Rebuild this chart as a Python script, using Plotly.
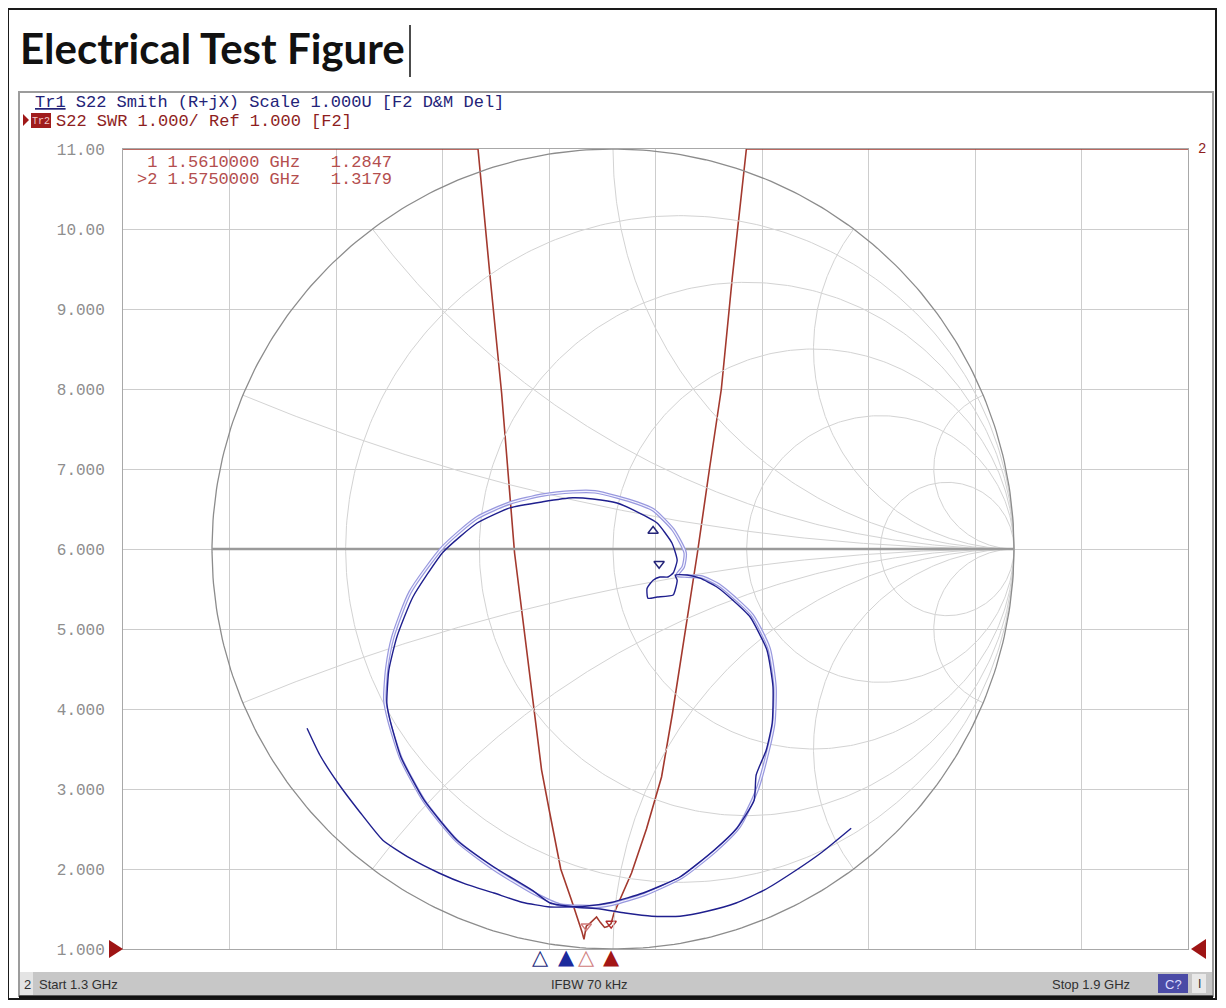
import numpy as np
import plotly.graph_objects as go

# ---------------- data ----------------
title_text = "Electrical Test Figure"
header_tr1 = "<u>Tr1</u> S22 Smith (R+jX) Scale 1.000U [F2 D&M Del]"
header_tr2_tag = "Tr2"
header_tr2 = "S22 SWR 1.000/ Ref 1.000 [F2]"
start_label = "Start 1.3 GHz"
ifbw_label = "IFBW 70 kHz"
stop_label = "Stop 1.9 GHz"
channel_label = "2"
cal_label = "C?"

freq_start_ghz = 1.3
freq_stop_ghz = 1.9
swr_min = 1.0
swr_max = 11.0
swr_tick_values = [1, 2, 3, 4, 5, 6, 7, 8, 9, 10, 11]
swr_tick_labels = ["1.000", "2.000", "3.000", "4.000", "5.000", "6.000",
                   "7.000", "8.000", "9.000", "10.00", "11.00"]
freq_grid_ghz = [1.30, 1.36, 1.42, 1.48, 1.54, 1.60, 1.66, 1.72, 1.78, 1.84, 1.90]

# Tr2 : S22 SWR (display clamps at 11)
swr_freq_ghz = [1.300, 1.500, 1.5066, 1.5133, 1.5206, 1.5308, 1.5358, 1.5400,
                1.5466, 1.5527, 1.5560, 1.5585, 1.5597, 1.5610, 1.5630, 1.5650,
                1.5668, 1.5690, 1.5713, 1.5730, 1.5750, 1.5765, 1.5800, 1.5865,
                1.5949, 1.6034, 1.6096, 1.6166, 1.6236, 1.6304, 1.6371, 1.6433,
                1.6512, 1.9000]
swr_value = [11.0, 11.0, 9.45, 7.95, 5.95, 4.11, 3.24, 2.75,
             2.00, 1.61, 1.40, 1.22, 1.12, 1.2847, 1.32, 1.36,
             1.40, 1.33, 1.27, 1.28, 1.3179, 1.44, 1.62, 1.95,
             2.50, 3.15, 3.95, 4.95, 5.95, 7.00, 8.00, 9.40,
             11.0, 11.0]

marker_ids = ["1", ">2"]
marker_freq_ghz = [1.561, 1.575]
marker_swr = [1.2847, 1.3179]
tr1_marker_freq_ghz = [1.535, 1.550]

# Smith chart graticule
smith_r_circles = [0.2, 0.5, 1.0, 2.0, 5.0]
smith_x_arcs = [0.2, 0.5, 1.0, 2.0, 5.0]

s22_gamma_re = [0.594, 0.521, 0.446, 0.377, 0.307, 0.237, 0.167, 0.097, 0.030, -0.032,
                -0.095, -0.157, -0.202, -0.297, -0.389, -0.471, -0.529, -0.556, -0.564, -0.559,
                -0.539, -0.499, -0.424, -0.339, -0.257, -0.175, -0.100, -0.050, 0.010, 0.060,
                0.110, 0.147, 0.160, 0.150, 0.137, 0.117, 0.100, 0.085, 0.087, 0.110,
                0.150, 0.160, 0.155, 0.185, 0.217, 0.259, 0.299, 0.342, 0.384, 0.399,
                0.397, 0.382, 0.357, 0.352, 0.309, 0.252, 0.167, 0.075, -0.002, -0.070,
                -0.157, -0.227, -0.297, -0.367, -0.434, -0.506, -0.574, -0.631, -0.686, -0.731,
                -0.763]
s22_gamma_im = [-0.698, -0.758, -0.810, -0.853, -0.885, -0.905, -0.918, -0.918, -0.910, -0.900,
                -0.895, -0.885, -0.853, -0.795, -0.728, -0.628, -0.520, -0.428, -0.385, -0.303,
                -0.220, -0.120, -0.008, 0.065, 0.103, 0.118, 0.128, 0.125, 0.115, 0.093,
                0.065, 0.015, -0.028, -0.060, -0.070, -0.070, -0.078, -0.098, -0.123, -0.120,
                -0.115, -0.078, -0.065, -0.065, -0.073, -0.095, -0.128, -0.170, -0.253, -0.345,
                -0.435, -0.503, -0.565, -0.628, -0.698, -0.753, -0.820, -0.860, -0.883, -0.893,
                -0.895, -0.883, -0.860, -0.838, -0.810, -0.773, -0.728, -0.658, -0.585, -0.515,
                -0.448]
# second (lighter) S22 trace
s22b_gamma_re = [-0.032, -0.132, -0.202, -0.297, -0.389, -0.471, -0.529, -0.559, -0.569, -0.564,
                 -0.549, -0.506, -0.424, -0.339, -0.257, -0.175, -0.100, -0.045, 0.010, 0.060,
                 0.100, 0.150, 0.180, 0.175, 0.160, 0.185, 0.222, 0.264, 0.304, 0.347,
                 0.389, 0.404, 0.401, 0.387, 0.359, 0.314, 0.257, 0.172, 0.080, -0.002,
                 -0.032]
s22b_gamma_im = [-0.893, -0.890, -0.858, -0.800, -0.730, -0.630, -0.523, -0.428, -0.378, -0.298,
                 -0.220, -0.108, 0.005, 0.078, 0.115, 0.135, 0.143, 0.143, 0.130, 0.115,
                 0.098, 0.048, -0.010, -0.045, -0.065, -0.068, -0.070, -0.090, -0.123, -0.165,
                 -0.248, -0.345, -0.435, -0.503, -0.603, -0.695, -0.753, -0.820, -0.863, -0.888,
                 -0.893]
tr1_marker_gamma_re = [0.100, 0.115]
tr1_marker_gamma_im = [0.045, -0.037]

# ---------------- layout constants ----------------
OFF = 8                      # page body margin of the html page
W, H = 1226 - OFF, 1008 - OFF
PL, PT, PR, PB = 123, 149, 1188, 949   # plot area in window pixels
L, T = PL - OFF, PT - OFF
R, B = W - (PR - OFF), H - (PB - OFF)
PW, PH = PR - PL, PB - PT
SMITH_CX, SMITH_RX = 613.0, 401.0   # window-pixel centre / radius of the Smith circle


def px(x):
    return (x - PL) / PW


def py(y):
    return (PB - y) / PH


NAVY = "#232378"
DKRED = "#8e1e1e"
TRACE_RED = "#a3392e"
READ_RED = "#b44e4e"
GRID = "#cdcdcd"
SGRID = "#d3d3d3"
MONO = "Liberation Mono, DejaVu Sans Mono, monospace"
SANS = "Liberation Sans, Arial, sans-serif"

fig = go.Figure()

# ---- Tr2 SWR trace on the rectangular axes ----
fig.add_trace(go.Scatter(x=swr_freq_ghz, y=swr_value, mode="lines",
                         line=dict(color=TRACE_RED, width=1.6), hoverinfo="skip",
                         showlegend=False))
fig.add_trace(go.Scatter(x=marker_freq_ghz, y=marker_swr, mode="markers",
                         marker=dict(symbol="triangle-down-open", size=9,
                                     color=["#d07a7a", "#b02a2a"], line=dict(width=1.4)),
                         showlegend=False, hoverinfo="skip"))

# ---- Smith chart graticule on overlay axes (reflection coefficient plane) ----
gx, gy = [], []
t = np.linspace(0, 2 * np.pi, 400)
for r in smith_r_circles:
    c, rad = r / (1 + r), 1 / (1 + r)
    gx += list(c + rad * np.cos(t)) + [None]
    gy += list(rad * np.sin(t)) + [None]
rr = np.concatenate([np.linspace(0, 2, 300), np.geomspace(2, 1e4, 300)])
for xv in smith_x_arcs:
    for s in (1, -1):
        z = rr + 1j * s * xv
        g = (z - 1) / (z + 1)
        gx += list(g.real) + [None]
        gy += list(g.imag) + [None]
fig.add_trace(go.Scatter(x=gx, y=gy, xaxis="x2", yaxis="y2", mode="lines",
                         line=dict(color=SGRID, width=1), hoverinfo="skip",
                         showlegend=False))
fig.add_trace(go.Scatter(x=list(np.cos(t)), y=list(np.sin(t)), xaxis="x2", yaxis="y2",
                         mode="lines", line=dict(color="#8c8c8c", width=1.3),
                         hoverinfo="skip", showlegend=False))
fig.add_trace(go.Scatter(x=[-1, 1], y=[0, 0], xaxis="x2", yaxis="y2", mode="lines",
                         line=dict(color="#9a9a9a", width=2.6), hoverinfo="skip",
                         showlegend=False))

# ---- Tr1 S22 traces ----
fig.add_trace(go.Scatter(x=s22b_gamma_re, y=s22b_gamma_im, xaxis="x2", yaxis="y2",
                         mode="lines",
                         line=dict(color="#9898de", width=3.6, shape="spline", smoothing=0.6),
                         hoverinfo="skip", showlegend=False))
fig.add_trace(go.Scatter(x=s22b_gamma_re, y=s22b_gamma_im, xaxis="x2", yaxis="y2",
                         mode="lines",
                         line=dict(color="#f4f4ff", width=1.2, shape="spline", smoothing=0.6),
                         hoverinfo="skip", showlegend=False))
fig.add_trace(go.Scatter(x=s22_gamma_re, y=s22_gamma_im, xaxis="x2", yaxis="y2",
                         mode="lines",
                         line=dict(color="#1f1f8e", width=1.4, shape="spline", smoothing=0.5),
                         hoverinfo="skip", showlegend=False))
fig.add_trace(go.Scatter(x=tr1_marker_gamma_re, y=tr1_marker_gamma_im, xaxis="x2",
                         yaxis="y2", mode="markers",
                         marker=dict(symbol=["triangle-up-open", "triangle-down-open"],
                                     size=9, color=NAVY, line=dict(width=1.4)),
                         hoverinfo="skip", showlegend=False))

# ---------------- decorations ----------------
shapes = []
# page frame
shapes.append(dict(type="rect", xref="paper", yref="paper", x0=px(8), x1=px(1216),
                   y0=py(999), y1=py(9), line=dict(color="#1a1a1a", width=2)))
# instrument screen border
shapes.append(dict(type="rect", xref="paper", yref="paper", x0=px(19), x1=px(1213),
                   y0=py(996), y1=py(92), line=dict(color="#9c9c9c", width=2)))
# status bar
shapes.append(dict(type="rect", xref="paper", yref="paper", x0=px(20), x1=px(1212),
                   y0=py(995), y1=py(972), fillcolor="#c7c7c7", line=dict(width=0)))
shapes.append(dict(type="rect", xref="paper", yref="paper", x0=px(20), x1=px(33),
                   y0=py(995), y1=py(972), fillcolor="#e4e4e4", line=dict(width=0)))
shapes.append(dict(type="rect", xref="paper", yref="paper", x0=px(1158), x1=px(1188),
                   y0=py(993), y1=py(974), fillcolor="#4b4ba6", line=dict(width=0)))
shapes.append(dict(type="rect", xref="paper", yref="paper", x0=px(1192), x1=px(1206),
                   y0=py(993), y1=py(974), fillcolor="#e8e8e8", line=dict(width=0)))
shapes.append(dict(type="line", xref="paper", yref="paper", x0=px(19), x1=px(1213),
                   y0=py(997), y1=py(997), line=dict(color="#111111", width=3)))
# reference-level arrows
shapes.append(dict(type="path", xref="paper", yref="paper",
                   path=f"M {px(109)},{py(940)} L {px(123)},{py(949)} L {px(109)},{py(958)} Z",
                   fillcolor="#9e1414", line=dict(width=0)))
shapes.append(dict(type="path", xref="paper", yref="paper",
                   path=f"M {px(1206)},{py(939)} L {px(1191)},{py(949)} L {px(1206)},{py(959)} Z",
                   fillcolor="#9e1414", line=dict(width=0)))
# active trace arrow + Tr2 tag box
shapes.append(dict(type="path", xref="paper", yref="paper",
                   path=f"M {px(23)},{py(114)} L {px(29)},{py(120)} L {px(23)},{py(126)} Z",
                   fillcolor="#a01818", line=dict(width=0)))
shapes.append(dict(type="rect", xref="paper", yref="paper", x0=px(31), x1=px(51),
                   y0=py(128), y1=py(113), fillcolor="#a01c1c", line=dict(width=0)))
# text cursor after title
shapes.append(dict(type="line", xref="paper", yref="paper", x0=px(410), x1=px(410),
                   y0=py(77), y1=py(25), line=dict(color="#111111", width=1.5)))

ann = []


def text(x, y, s, size, color, family=MONO, anchor="left", **kw):
    ann.append(dict(x=px(x), y=py(y), xref="paper", yref="paper", text=s,
                    showarrow=False, xanchor=anchor, yanchor="middle",
                    font=dict(size=size, color=color, family=family), **kw))


text(18, 48, f"<b>{title_text}</b>", 42, "#111111", family="Lato, Carlito, sans-serif")
text(33, 103, header_tr1, 17, NAVY)
text(41, 121, header_tr2_tag, 10, "#f3c9c9", anchor="center")
text(54, 121, header_tr2, 17, DKRED)
for i, (mid, f, v) in enumerate(zip(marker_ids, marker_freq_ghz, marker_swr)):
    text(135, 162 + 18 * i, f"{mid:>2} {f:.7f} GHz   {v:.4f}", 17, READ_RED)
text(1196, 149, "2", 14, DKRED)
text(22, 984, channel_label, 13, "#303030", family=SANS)
text(37, 984, start_label, 13, "#303030", family=SANS)
text(549, 984, ifbw_label, 13, "#303030", family=SANS)
text(1050, 984, stop_label, 13, "#303030", family=SANS)
text(1173, 984, cal_label, 13, "#dcdcff", family=SANS, anchor="center")
text(1199, 984, "I", 12, "#303030", family=SANS, anchor="center")

# marker position indicators under the frequency axis (data x, paper y)
for f, sym, col in zip(tr1_marker_freq_ghz + marker_freq_ghz,
                       ["\u25b3", "\u25b2", "\u25b3", "\u25b2"],
                       ["#1c2a7c", "#1c2a9c", "#d08080", "#a31616"]):
    ann.append(dict(x=f, y=py(957), xref="x", yref="paper", text=sym, showarrow=False,
                    xanchor="center", yanchor="middle",
                    font=dict(size=21, color=col, family="DejaVu Sans, sans-serif")))

x2_range = [(PL - SMITH_CX) / SMITH_RX, (PR - SMITH_CX) / SMITH_RX]

fig.update_layout(
    width=W, height=H,
    margin=dict(l=L, r=R, t=T, b=B, pad=0),
    paper_bgcolor="white", plot_bgcolor="white",
    showlegend=False,
    xaxis=dict(range=[freq_start_ghz, freq_stop_ghz], tickvals=freq_grid_ghz,
               showticklabels=False, ticks="", showgrid=True, gridcolor=GRID,
               gridwidth=1, zeroline=False, showline=True, linecolor="#a8a8a8",
               linewidth=1, mirror=True, fixedrange=True),
    yaxis=dict(range=[swr_min, swr_max], tickvals=swr_tick_values,
               ticktext=swr_tick_labels, ticks="", showgrid=True, gridcolor=GRID,
               gridwidth=1, zeroline=False, showline=True, linecolor="#a8a8a8",
               linewidth=1, mirror=True, ticklabelstandoff=14,
               tickfont=dict(family=MONO, size=16, color="#8e8e8e"), fixedrange=True),
    xaxis2=dict(overlaying="x", range=x2_range, visible=False, fixedrange=True),
    yaxis2=dict(overlaying="y", range=[-1, 1], visible=False, fixedrange=True),
    shapes=shapes,
    annotations=ann,
)

fig.write_html("out.html")
